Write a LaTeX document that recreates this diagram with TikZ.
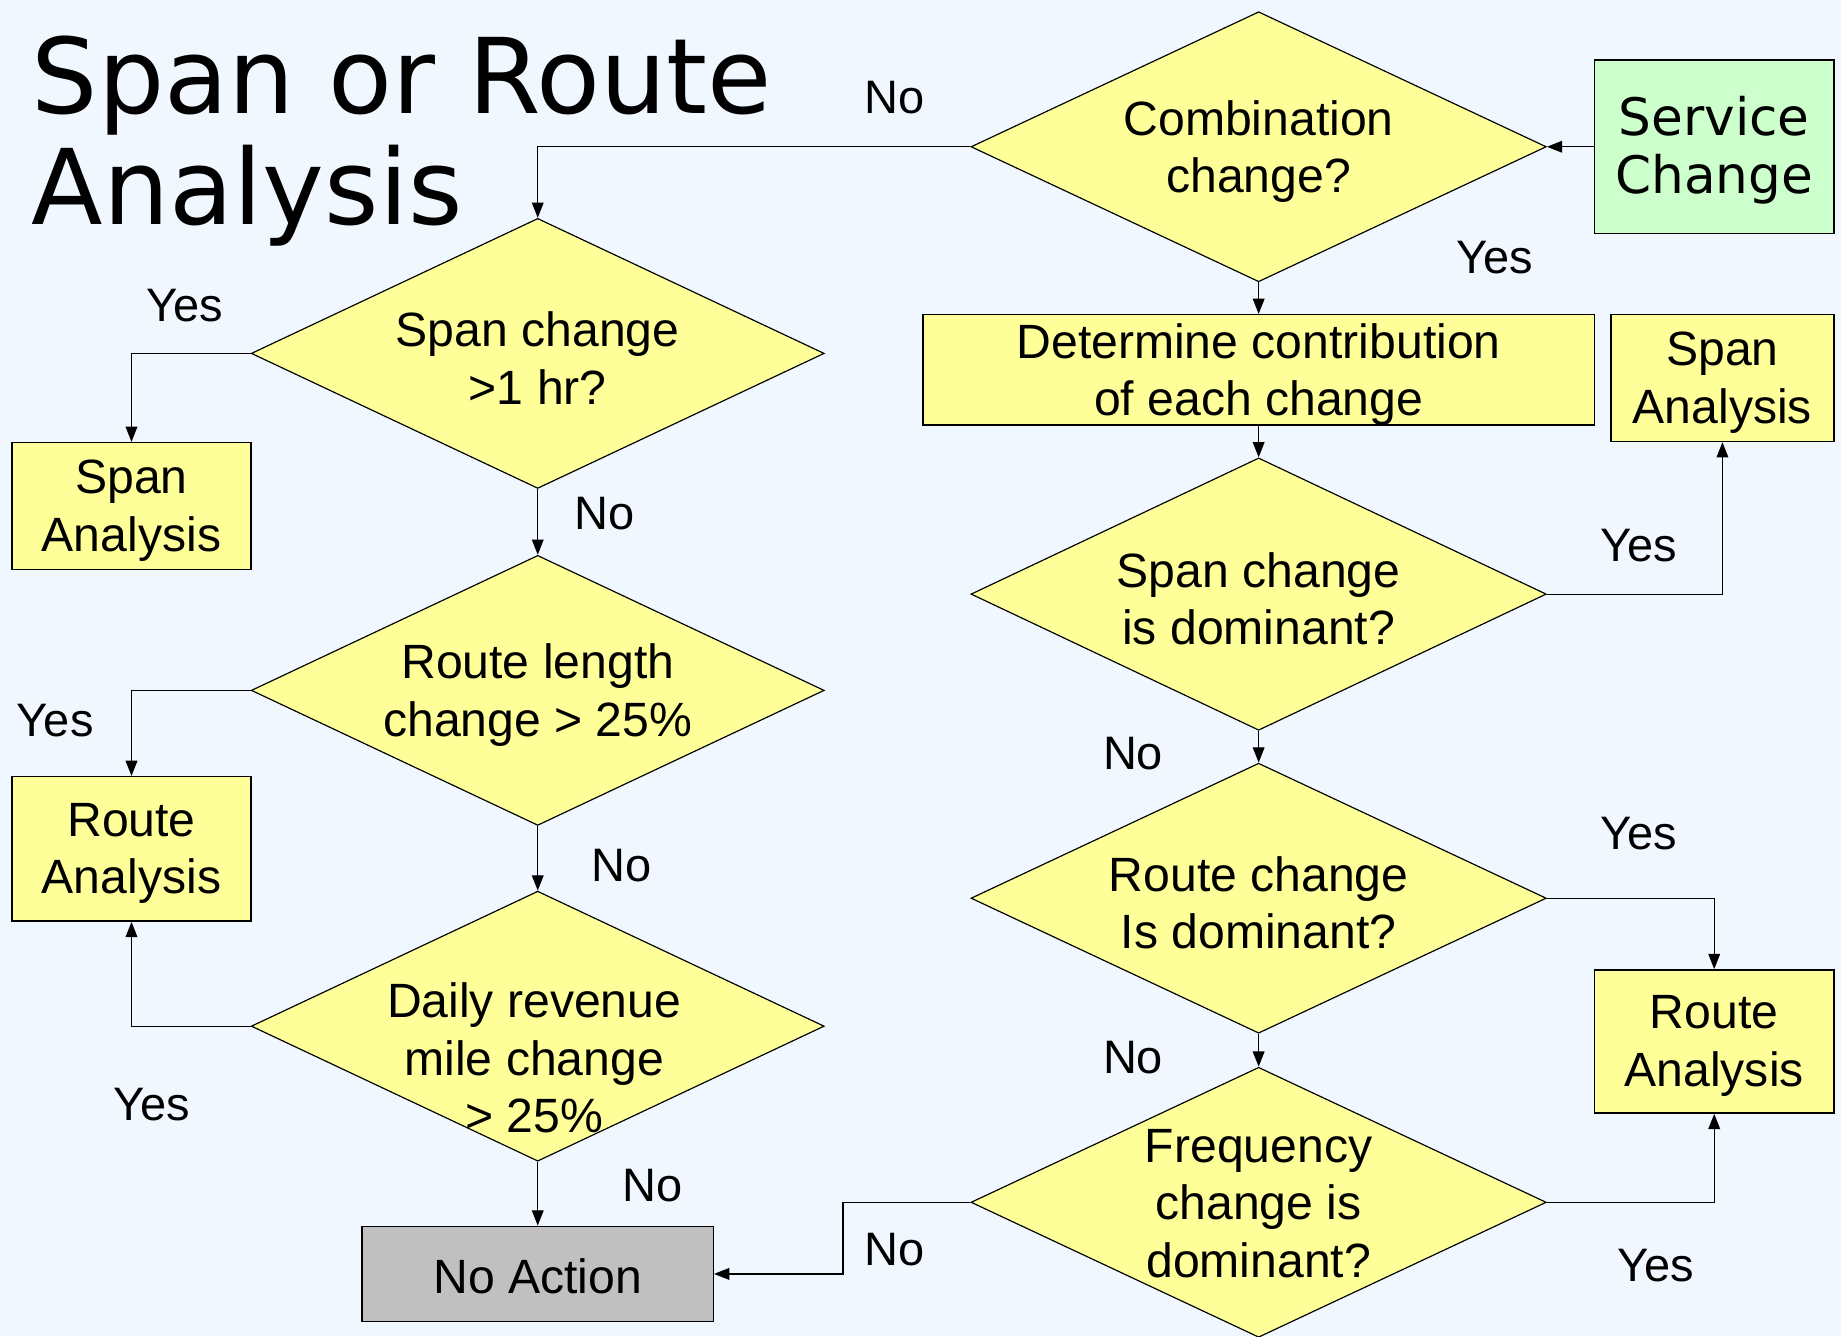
\documentclass[tikz,border=0pt]{standalone}
\usepackage{fontspec}
\setmainfont{Liberation Sans}
\newfontfamily\titlefont{DejaVu Sans}
\usetikzlibrary{positioning,shapes.geometric,arrows.meta,calc}
\definecolor{pagebg}{RGB}{240,247,255}
\definecolor{qyellow}{RGB}{255,255,153}
\definecolor{startgreen}{RGB}{204,255,204}
\definecolor{stopgray}{RGB}{192,192,192}

\begin{document}
\begin{tikzpicture}[x=1pt, y=-1pt,
    decision/.style={diamond, draw=black, line width=1pt, fill=qyellow, minimum width=490pt, minimum height=230pt, inner sep=0pt},
    qtext/.style={align=center, font=\fontsize{41}{49}\selectfont, inner sep=0pt, yshift=-4pt},
    box/.style={rectangle, draw=black, line width=1.3pt, fill=qyellow, inner sep=0pt},
    answer/.style={font=\fontsize{40}{49}\selectfont, inner sep=0pt},
    flow/.style={line width=1pt, -{Triangle[length=13pt,width=10pt]}}
]

% Page
\fill[pagebg] (0,0) rectangle (1568,1138);
\useasboundingbox (0,0) rectangle (1568,1138);

% Title
\node[anchor=north west, align=left, inner sep=0pt, font=\titlefont\fontsize{89}{95}\selectfont] (title) at (27,30) {Span or Route\\Analysis};

% Start
\node[box, fill=startgreen, minimum width=204pt, minimum height=148pt] (svc) at (1460,125) {};
\node[qtext, font=\titlefont\fontsize{44}{50}\selectfont, yshift=1pt] (svc-t) at (svc) {Service\\Change};

% Right column
\node[decision] (comb) at (1072,125) {};
\node[qtext] (comb-t) at (comb) {Combination\\change?};

\node[box, minimum width=572pt, minimum height=94pt] (contrib) at (1072,315) {};
\node[qtext] (contrib-t) at (contrib) {Determine contribution\\of each change};

\node[decision, minimum height=232pt] (spandom) at (1072,506) {};
\node[qtext] (spandom-t) at (spandom) {Span change\\is dominant?};

\node[decision] (routedom) at (1072,765) {};
\node[qtext] (routedom-t) at (routedom) {Route change\\Is dominant?};

\node[decision] (freq) at (1072,1024) {};
\node[qtext] (freq-t) at (1072,1021) {Frequency\\change is\\dominant?};

\node[box, minimum width=190pt, minimum height=108pt] (spanR) at (1467,322) {};
\node[qtext] (spanR-t) at (spanR) {Span\\Analysis};
\node[box, minimum width=204pt, minimum height=122pt] (routeR) at (1460,887) {};
\node[qtext] (routeR-t) at (routeR) {Route\\Analysis};

% Left column
\node[decision, minimum width=488pt] (spanq) at (458,301) {};
\node[qtext] (spanq-t) at (spanq) {Span change\\>1 hr?};

\node[decision, minimum width=488pt] (lenq) at (458,588) {};
\node[qtext] (lenq-t) at (lenq) {Route length\\change > 25\%};

\node[decision, minimum width=488pt] (daily) at (458,874) {};
\node[qtext] (daily-t) at (455,897) {Daily revenue\\mile change\\> 25\%};

\node[box, minimum width=204pt, minimum height=108pt] (spanL) at (112,431) {};
\node[qtext] (spanL-t) at (spanL) {Span\\Analysis};
\node[box, minimum width=204pt, minimum height=123pt] (routeL) at (112,723) {};
\node[qtext] (routeL-t) at (routeL) {Route\\Analysis};

% End
\node[box, fill=stopgray, minimum width=299pt, minimum height=81pt] (noact) at (458,1085) {};
\node[qtext, yshift=2pt] (noact-t) at (noact) {No Action};

% Connections
\coordinate (fbend) at (718,1085);

\draw[flow] (svc.west) -- (comb.east);
\draw[flow] (comb.west) -| (spanq.north);
\draw[flow] (comb.south) -- (contrib.north);
\draw[flow] (contrib.south) -- (spandom.north);
\draw[flow] (spandom.east) -| (spanR.south);
\draw[flow] (spandom.south) -- (routedom.north);
\draw[flow] (routedom.east) -| (routeR.north);
\draw[flow] (routedom.south) -- (freq.north);
\draw[flow] (freq.east) -| (routeR.south);
\draw[flow] (freq.west) -| (fbend) -- (noact.east);

\draw[flow] (spanq.west) -| (spanL.north);
\draw[flow] (spanq.south) -- (lenq.north);
\draw[flow] (lenq.west) -| (routeL.north);
\draw[flow] (lenq.south) -- (daily.north);
\draw[flow] (daily.west) -| (routeL.south);
\draw[flow] (daily.south) -- (noact.north);

% Answers
\node[answer] (a-comb-no) at (762,83) {No};
\node[answer] (a-comb-yes) at (1273,219) {Yes};
\node[answer] (a-spanq-yes) at (157,260) {Yes};
\node[answer] (a-spanq-no) at (515,437) {No};
\node[answer] (a-lenq-yes) at (47,614) {Yes};
\node[answer] (a-lenq-no) at (529,737) {No};
\node[answer] (a-daily-yes) at (129,941) {Yes};
\node[answer] (a-daily-no) at (556,1010) {No};
\node[answer] (a-spandom-yes) at (1396,465) {Yes};
\node[answer] (a-spandom-no) at (965,642) {No};
\node[answer] (a-routedom-yes) at (1396,710) {Yes};
\node[answer] (a-routedom-no) at (965,901) {No};
\node[answer] (a-freq-yes) at (1410,1078) {Yes};
\node[answer] (a-freq-no) at (762,1064) {No};

\end{tikzpicture}
\end{document}
